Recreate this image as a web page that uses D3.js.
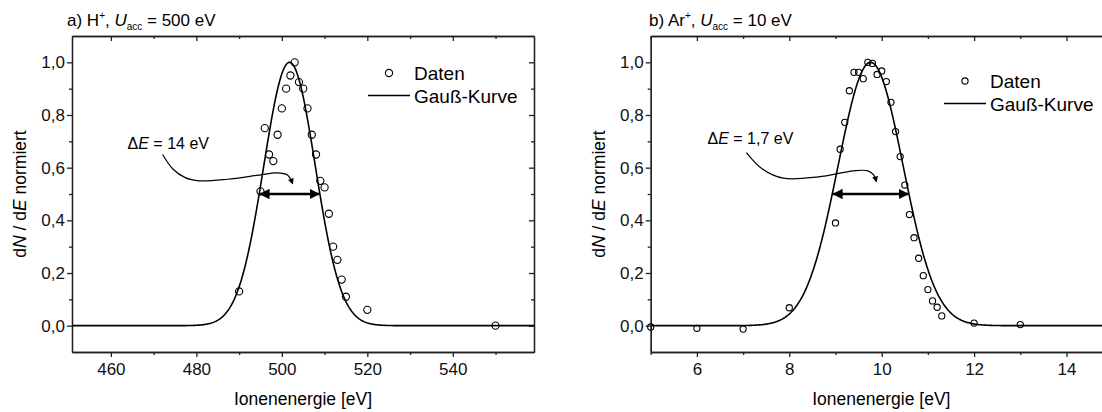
<!DOCTYPE html>
<html><head><meta charset="utf-8">
<script src="https://cdn.jsdelivr.net/npm/d3@7"></script>
<style>
body{margin:0;background:#fff;}
svg{display:block;font-family:"Liberation Sans",Arial,sans-serif;}
.axis path,.axis line{stroke:#222;stroke-width:1.3;}
.axis text{font-size:17px;fill:#111;font-family:"Liberation Sans",Arial,sans-serif;}
</style></head><body>
<svg id="c" width="1102" height="412"></svg>
<script>
// ---------- data ----------
// Panel a) H+, U_acc = 500 eV
const energyA = [490, 495, 496, 497, 498, 499, 500, 501, 502, 503, 504, 505, 506, 507, 508, 509, 510, 511, 512, 513, 514, 515, 520, 550];
const valuesA = [0.13, 0.51, 0.75, 0.65, 0.625, 0.725, 0.825, 0.90, 0.95, 1.0, 0.925, 0.90, 0.825, 0.725, 0.65, 0.55, 0.525, 0.425, 0.30, 0.25, 0.175, 0.11, 0.06, 0.0];
// Gauss fit parameters: [center, FWHM, amplitude]
const gaussA = [501.8, 14.2, 1.0];
const xTicksA = [460, 480, 500, 520, 540];
const xMinorA = [470, 490, 510, 530, 550];
const deltaA = "14 eV";

// Panel b) Ar+, U_acc = 10 eV
const energyB = [5, 6, 7, 8, 9.0, 9.1, 9.2, 9.3, 9.4, 9.5, 9.6, 9.7, 9.8, 9.9, 10.0, 10.1, 10.2, 10.3, 10.4, 10.5, 10.6, 10.7, 10.8, 10.9, 11.0, 11.1, 11.2, 11.3, 12, 13];
const valuesB = [-0.005, -0.01, -0.013, 0.068, 0.39, 0.67, 0.772, 0.892, 0.962, 0.962, 0.938, 1.0, 0.996, 0.954, 0.967, 0.927, 0.848, 0.737, 0.642, 0.534, 0.422, 0.334, 0.256, 0.19, 0.137, 0.094, 0.07, 0.037, 0.01, 0.004];
const gaussB = [9.76, 1.66, 1.0];
const xTicksB = [6, 8, 10, 12, 14];
const xMinorB = [5, 7, 9, 11, 13, 15];
const deltaB = "1,7 eV";

const yTicks = [0, 0.2, 0.4, 0.6, 0.8, 1.0];
const yMinor = [0.1, 0.3, 0.5, 0.7, 0.9];

// annotation curves (data coordinates)
const curveA = [[472.1,0.650],[474.5,0.595],[477.4,0.562],[480.7,0.550],[487.3,0.556],[494.7,0.572],[498.8,0.580],[501.3,0.572],[502.5,0.540]];
const curveB = [[7.07,0.657],[7.41,0.596],[7.87,0.560],[8.63,0.565],[9.39,0.588],[9.70,0.588],[9.83,0.572],[9.88,0.548]];

// ---------- drawing ----------
const svg = d3.select("#c");
const locale = d3.formatLocale({decimal:",", thousands:".", grouping:[3], currency:["","€"]});
const fy = locale.format(".1f");

defs = svg.append("defs");
defs.append("marker").attr("id","ah").attr("viewBox","0 0 10 10").attr("refX",9).attr("refY",5)
  .attr("markerWidth",4).attr("markerHeight",4).attr("orient","auto-start-reverse")
  .append("path").attr("d","M0,0L10,5L0,10z").attr("fill","#000");
defs.append("marker").attr("id","ahs").attr("viewBox","0 0 10 10").attr("refX",8).attr("refY",5)
  .attr("markerWidth",6).attr("markerHeight",5).attr("orient","auto")
  .append("path").attr("d","M0,0L10,5L0,10z").attr("fill","#000");

function gauss(p){ const s=p[1]/(2*Math.sqrt(2*Math.log(2))); return x=>p[2]*Math.exp(-((x-p[0])**2)/(2*s*s)); }

function panel(cfg){
  const x = d3.scaleLinear().domain(cfg.xdom).range(cfg.xr);
  const y = d3.scaleLinear().domain([-0.1,1.1]).range([352,36]);
  const g = svg.append("g");
  const clipId = "clip"+cfg.id;
  defs.append("clipPath").attr("id",clipId).append("rect")
    .attr("x",cfg.xr[0]).attr("y",36).attr("width",cfg.xr[1]-cfg.xr[0]).attr("height",316);

  // axes
  const B = g.append("g").attr("class","axis").attr("transform","translate(0,352)");
  B.call(d3.axisBottom(x).tickValues(cfg.xt).tickSize(5).tickPadding(6).tickSizeOuter(0).tickFormat(d3.format("d")));
  g.append("g").attr("class","axis").attr("transform","translate(0,352)")
    .call(d3.axisBottom(x).tickValues(cfg.xm).tickSize(3).tickFormat("").tickSizeOuter(0));
  g.append("g").attr("class","axis").attr("transform","translate(0,36)")
    .call(d3.axisTop(x).tickValues(cfg.xt).tickSize(-5).tickFormat("").tickSizeOuter(0));
  g.append("g").attr("class","axis").attr("transform","translate(0,36)")
    .call(d3.axisTop(x).tickValues(cfg.xm).tickSize(-3).tickFormat("").tickSizeOuter(0));
  const L = g.append("g").attr("class","axis").attr("transform",`translate(${cfg.xr[0]},0)`);
  L.call(d3.axisLeft(y).tickValues(yTicks).tickSize(5).tickPadding(2).tickSizeOuter(0).tickFormat(fy));
  g.append("g").attr("class","axis").attr("transform",`translate(${cfg.xr[0]},0)`)
    .call(d3.axisLeft(y).tickValues(yMinor).tickSize(3).tickFormat("").tickSizeOuter(0));
  g.append("g").attr("class","axis").attr("transform",`translate(${cfg.xr[1]},0)`)
    .call(d3.axisRight(y).tickValues(yTicks).tickSize(-5).tickFormat("").tickSizeOuter(0));
  g.append("g").attr("class","axis").attr("transform",`translate(${cfg.xr[1]},0)`)
    .call(d3.axisRight(y).tickValues(yMinor).tickSize(-3).tickFormat("").tickSizeOuter(0));
  g.selectAll(".axis .domain").attr("stroke-width",1.6);

  // gauss curve
  const f = gauss(cfg.gauss);
  const xs = d3.range(0,601).map(i=>cfg.xdom[0]+(cfg.xdom[1]-cfg.xdom[0])*i/600);
  g.append("path").datum(xs).attr("clip-path",`url(#${clipId})`)
    .attr("fill","none").attr("stroke","#000").attr("stroke-width",1.6)
    .attr("d",d3.line().x(d=>x(d)).y(d=>y(f(d))));

  // data points
  g.selectAll("circle.pt").data(cfg.ex.map((e,i)=>[e,cfg.vals[i]])).join("circle")
    .attr("class","pt").attr("cx",d=>x(d[0])).attr("cy",d=>y(d[1])).attr("r",cfg.r)
    .attr("fill","none").attr("stroke","#000").attr("stroke-width",1.1);

  // FWHM double arrow
  const s = cfg.gauss[1]/2;
  g.append("line").attr("x1",x(cfg.gauss[0]-s)+1).attr("x2",x(cfg.gauss[0]+s)-1)
    .attr("y1",y(0.5)).attr("y2",y(0.5)).attr("stroke","#000").attr("stroke-width",2.6)
    .attr("marker-start","url(#ah)").attr("marker-end","url(#ah)");

  // curved annotation arrow
  g.append("path").datum(cfg.curve).attr("fill","none").attr("stroke","#000").attr("stroke-width",1.2)
    .attr("d",d3.line().x(d=>x(d[0])).y(d=>y(d[1])).curve(d3.curveCatmullRom))
    .attr("marker-end","url(#ahs)");
  const t = g.append("text").attr("x",x(cfg.annX)).attr("y",y(cfg.annY)+6).attr("font-size",16);
  t.append("tspan").text("\u0394");
  t.append("tspan").attr("font-style","italic").text("E");
  t.append("tspan").text(" = "+cfg.delta);

  // axis titles
  g.append("text").attr("x",(cfg.xr[0]+Math.min(cfg.xr[1],1112))/2).attr("y",405).attr("text-anchor","middle")
    .attr("font-size",17.5).text("Ionenenergie [eV]");
  const yl = g.append("text").attr("transform",`translate(${cfg.ylx},194) rotate(-90)`).attr("text-anchor","middle").attr("font-size",17.5);
  yl.append("tspan").text("d");
  yl.append("tspan").attr("font-style","italic").text("N");
  yl.append("tspan").text(" / d");
  yl.append("tspan").attr("font-style","italic").text("E");
  yl.append("tspan").text(" normiert");

  // title
  const tt = g.append("text").attr("x",cfg.titleX).attr("y",26).attr("font-size",17);
  tt.append("tspan").text(cfg.ion);
  tt.append("tspan").attr("font-size",10).attr("dy",-7).text("+");
  tt.append("tspan").attr("dy",7).text(", ");
  tt.append("tspan").attr("font-style","italic").text("U");
  tt.append("tspan").attr("font-size",10).attr("dy",4).text("acc");
  tt.append("tspan").attr("dy",-4).text(" = "+cfg.uacc);

  // legend
  const lg = g.append("g").attr("transform",`translate(${cfg.leg[0]},${cfg.leg[1]})`);
  lg.append("circle").attr("cx",0).attr("cy",0).attr("r",cfg.r).attr("fill","none").attr("stroke","#000").attr("stroke-width",1.1);
  lg.append("text").attr("x",25).attr("y",7).attr("font-size",19).text("Daten");
  lg.append("line").attr("x1",-21).attr("x2",21).attr("y1",22.5).attr("y2",22.5).attr("stroke","#000").attr("stroke-width",1.6);
  lg.append("text").attr("x",25).attr("y",29.5).attr("font-size",19).text("Gau\u00DF-Kurve");
}

panel({id:"A", xdom:[450.9,559.0], xr:[72,534], xt:xTicksA, xm:xMinorA, gauss:gaussA,
  ex:energyA, vals:valuesA, r:3.6, curve:curveA, annX:463.9, annY:0.692, delta:deltaA,
  ylx:26, titleX:67, ion:"a) H", uacc:"500 eV", leg:[389,73]});
panel({id:"B", xdom:[5,15], xr:[650.7,1112.7], xt:xTicksB, xm:xMinorB, gauss:gaussB,
  ex:energyB, vals:valuesB, r:3.1, curve:curveB, annX:6.23, annY:0.712, delta:deltaB,
  ylx:605, titleX:649, ion:"b) Ar", uacc:"10 eV", leg:[965,81]});
</script></body></html>
